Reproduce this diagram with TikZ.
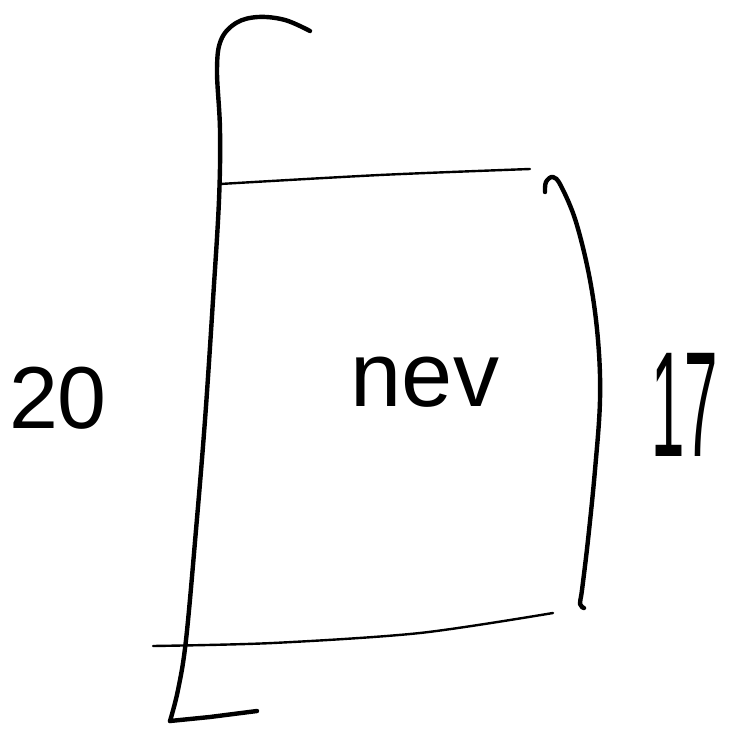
\documentclass[tikz,border=0pt]{standalone}
\usepackage{fontspec}
\setmainfont{Liberation Sans}
\tikzset{
  heavy/.style={line width=4.4pt, line cap=round, line join=round},
  light/.style={line width=2.4pt, line cap=round, line join=round},
  hand/.style={inner sep=0pt, text=black}
}
\begin{document}
\begin{tikzpicture}[x=1pt,y=-1pt]
\useasboundingbox (0,0) rectangle (740,735);
% left bracket
\draw[heavy] plot[smooth, tension=0.6] coordinates {(310,31) (285,20) (258,17) (236,23) (221,40) (217,70) (220,130) (219,200) (213,300) (205,420) (196,530) (186,640) (178,690) (170,721)};
\draw[heavy] (170,721) -- (210,717) -- (257,711);
% top line
\draw[light] plot[smooth] coordinates {(220,184) (380,175) (530,169)};
% right stroke
\draw[heavy] plot[smooth, tension=0.6] coordinates {(545,192) (546,182) (553,177) (561,186) (576,222) (590,280) (598,340) (600,400) (595,470) (588,540) (582,590) (580,604) (584,608)};
% bottom line
\draw[light] plot[smooth] coordinates {(153,646) (273,643) (420,633) (553,613)};
% texts
\node[hand, font=\fontsize{88}{90}\selectfont] (l20) at (58,398) {20};
\node[hand, font=\fontsize{92}{94}\selectfont] (lnev) at (425,382) {nev};
\node[hand, font=\fontsize{150}{152}\selectfont, xscale=0.4] (l17) at (685,405) {17};
\end{tikzpicture}
\end{document}
